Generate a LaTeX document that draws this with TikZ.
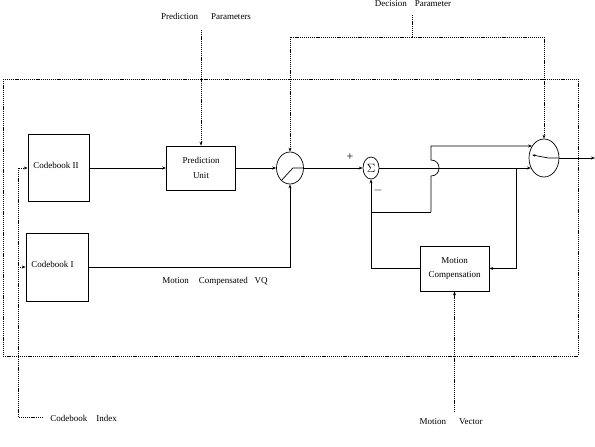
\documentclass[tikz,border=0pt]{standalone}
\usepackage{fontspec}
\setmainfont{Liberation Serif}
\usetikzlibrary{arrows.meta,shapes.geometric,calc}
\begin{document}
\begin{tikzpicture}[x=1pt,y=-1pt,
  line width=0.7pt,
  every node/.style={font=\fontsize{9}{10.5}\selectfont},
  blk/.style={draw,rectangle,inner sep=0pt,align=center},
  sw/.style={draw,ellipse,inner sep=0pt},
  dsh/.style={dash pattern=on 1.2pt off 0.9pt},
  arr/.style={-{Stealth[length=4pt,width=3pt]}},
  lbl/.style={inner sep=0pt}]
\useasboundingbox (0,0) rectangle (595,447);
% blocks
\node[blk,minimum width=61pt,minimum height=67pt] (cb2) at (58.5,168) {};
\node[lbl,anchor=west] (cb2t) at (33,165) {Codebook II};
\node[blk,minimum width=62pt,minimum height=68pt] (cb1) at (57,267) {};
\node[lbl,anchor=west] (cb1t) at (31,264) {Codebook I};
\node[blk,minimum width=69pt,minimum height=44pt] (pu) at (201,168) {Prediction\\[4pt]Unit};
\node[sw,minimum width=27pt,minimum height=32pt] (sw1) at (290,168) {};
\node[sw,minimum width=16pt,minimum height=22pt] (sum) at (371,168) {\fontsize{12}{12}\selectfont$\Sigma$};
\node[blk,minimum width=69pt,minimum height=45pt] (mc) at (454.5,268.5) {Motion\\[4pt]Compensation};
\node[sw,minimum width=30pt,minimum height=38pt] (sw2) at (544,158) {};
% labels
\node[lbl] (ppl) at (206,16) {Prediction\hspace{13pt}Parameters};
\node[lbl] (dpl) at (413,4) {Decision\hspace{8pt}Parameter};
\node[lbl] (mcvq) at (215,281) {Motion\hspace{10pt}Compensated\hspace{7pt}VQ};
\node[lbl,anchor=west] (cil) at (50,418) {Codebook\hspace{9pt}Index};
\node[lbl] (mvl) at (451,422) {Motion\hspace{13pt}Vector};
\node[lbl] (plus) at (350,157) {\fontsize{12}{12}\selectfont +};
\node[lbl] (minus) at (378,190) {\fontsize{12}{12}\selectfont $-$};
% outer dashed frame
\draw[dsh] (3,79) rectangle (578,356);
% solid connectors
\draw[arr] (cb2.east) -- (pu.west);
\draw[arr] (pu.east) -- (sw1.west);
\draw (sw1.east) -- ++(-11,0) -- ++(-11,12);
\draw[arr] (sw1.east) -- (sum.west);
\draw[arr] (cb1.east) -| (sw1.south);
\draw[arr] (sum.east) -- (sum.east -| sw2.218);
\coordinate (jtop) at (431,146);
\coordinate (jbot) at (431,212);
\draw[arr] (jbot) -- (431,176) .. controls (441.7,176) and (441.7,160) .. (431,160) -- (jtop) -- (jtop -| sw2.134);
\draw (sum.south |- jbot) -- (jbot);
\draw[arr] (mc.west) -| (sum.south);
\coordinate (br) at (516,168);
\draw[arr] (br) |- (mc.east);
\draw[-{Stealth[length=3pt,width=2.5pt]}] (sw2.east) -- ++(-11,0) -- ++(-16,-3);
\coordinate (outp) at (595,158);
\draw[arr] (sw2.east) -- (outp);
% dashed connectors
\coordinate (ppin) at (pu.north |- 0,30);
\draw[dsh,arr] (ppin) -- (pu.north);
\coordinate (dp0) at (412,15);
\coordinate (dp1) at (412,37);
\draw[dsh] (dp0) -- (dp1);
\draw[dsh,arr] (dp1) -| (sw1.north);
\draw[dsh,arr] (dp1) -| (sw2.north);
\coordinate (ci0) at (43,417);
\coordinate (ci1) at (18,417);
\coordinate (ci2) at (18,267);
\draw[dsh,arr] (ci0) -- (ci1) |- (cb2.west);
\draw[dsh,arr] (ci2) -- (cb1.west);
\coordinate (mv0) at (mc.south |- 0,412);
\draw[dsh,arr] (mv0) -- (mc.south);
\end{tikzpicture}
\end{document}
